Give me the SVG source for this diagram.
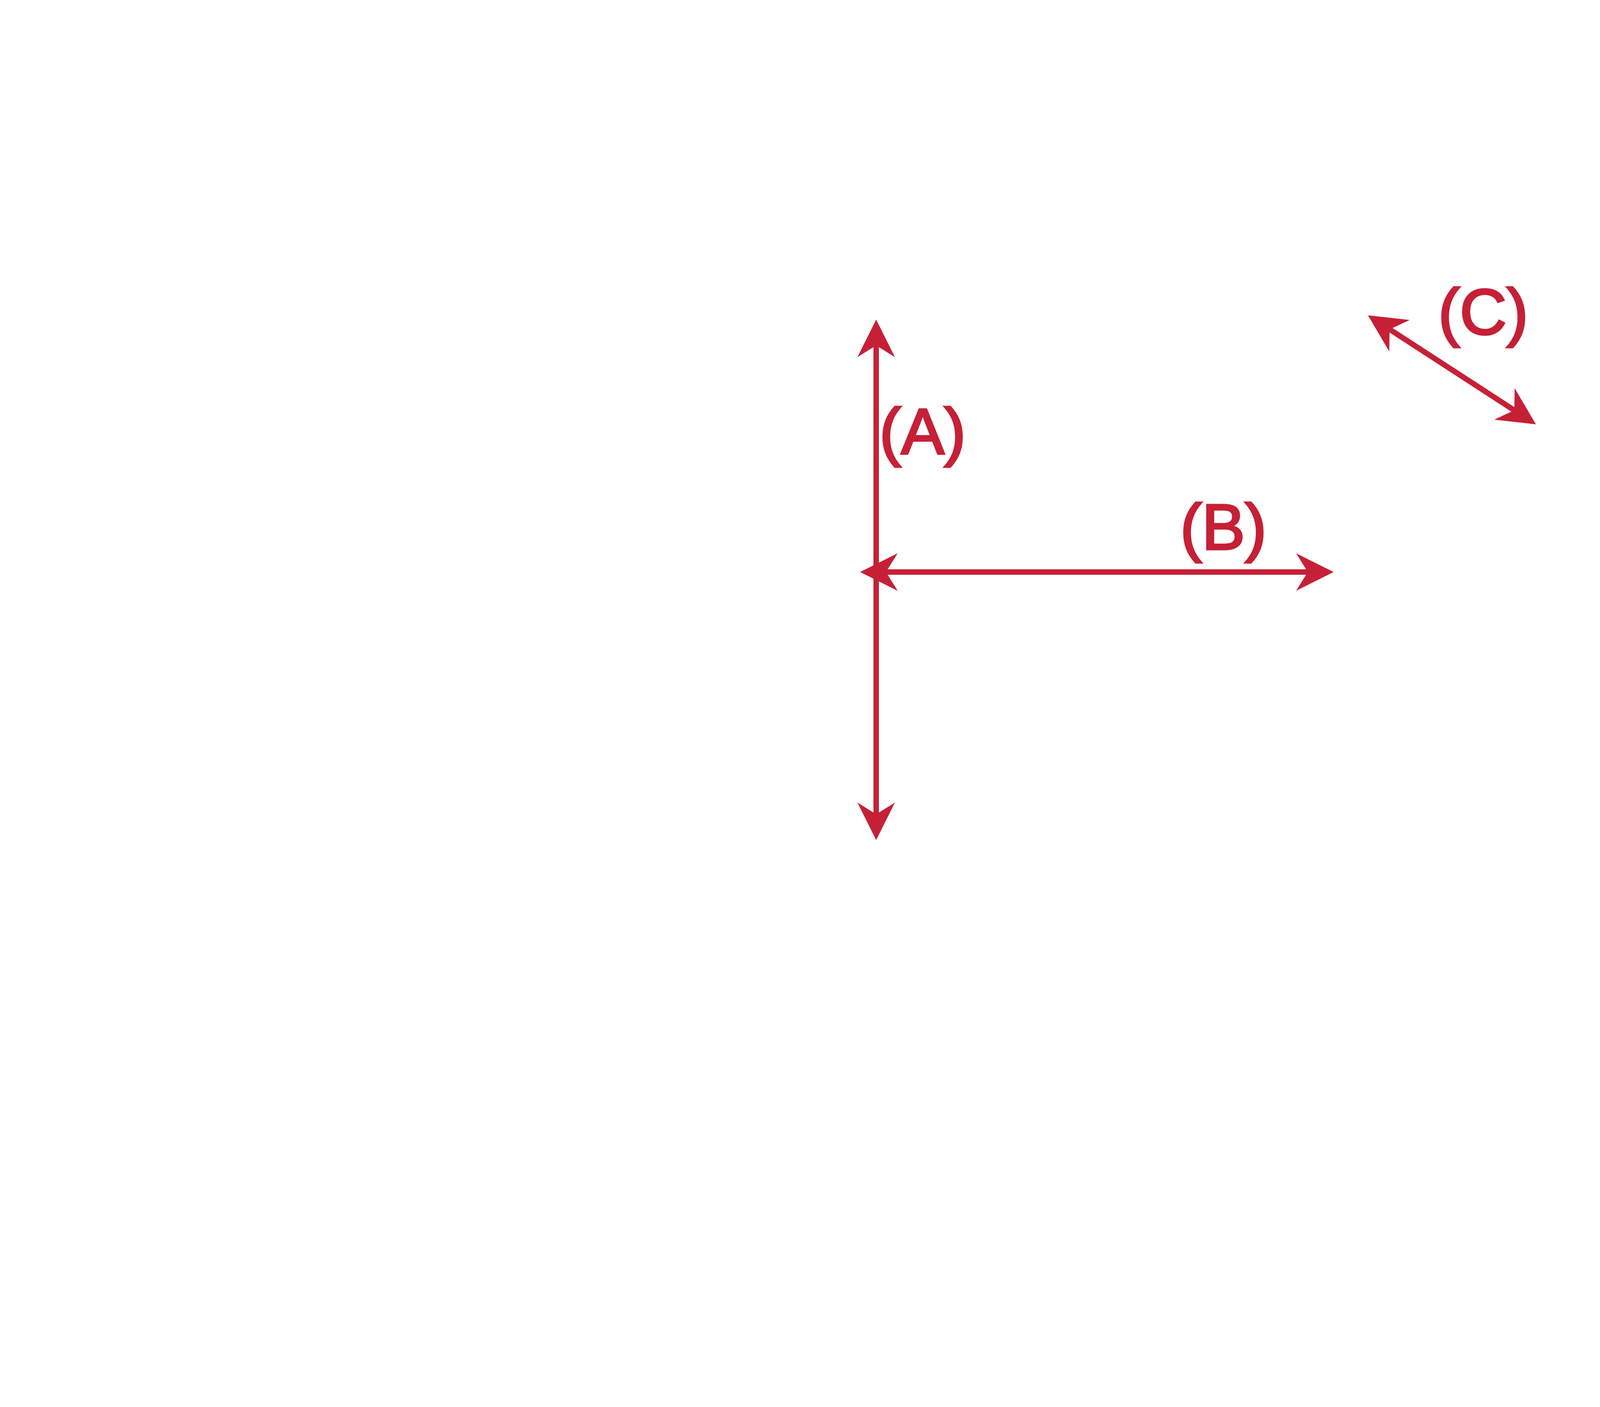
<svg xmlns="http://www.w3.org/2000/svg" width="5500" height="3601" viewBox="0 0 5500 3601">
  <style>
    .conn { fill: none; stroke: #C62037; stroke-width: 14; stroke-linecap: butt; }
    .lbl { font-family: "Liberation Sans", Arial, sans-serif; font-size: 166px; fill: #C62037; stroke: #C62037; stroke-width: 5; stroke-linejoin: miter; text-anchor: middle; }
  </style>
  <defs>
    <marker id="ah" markerUnits="userSpaceOnUse" markerWidth="200" markerHeight="200" refX="0" refY="0" orient="auto-start-reverse" overflow="visible" viewBox="-100 -100 200 200">
      <path d="M66,0 L-30,-48 L0,0 L-30,48 Z" fill="#C62037"/>
    </marker>
  </defs>
  <rect width="5500" height="3601" fill="#FFFFFF"/>
  <g id="connectors">
    <path id="arrow-A" class="conn" d="M2243,884 L2243,2084" marker-start="url(#ah)" marker-end="url(#ah)"/>
    <path id="arrow-B" class="conn" d="M2268,1464 L3348,1464" marker-start="url(#ah)" marker-end="url(#ah)"/>
    <path id="arrow-C" class="conn" d="M3557.4,842.9 L3876.6,1050.1" marker-start="url(#ah)" marker-end="url(#ah)"/>
  </g>
  <g id="label-A">
    <text class="lbl" x="2362" y="1161">(A)</text>
  </g>
  <g id="label-B">
    <text class="lbl" x="3132" y="1406">(B)</text>
  </g>
  <g id="label-C">
    <text class="lbl" x="3797" y="855">(C)</text>
  </g>
</svg>
